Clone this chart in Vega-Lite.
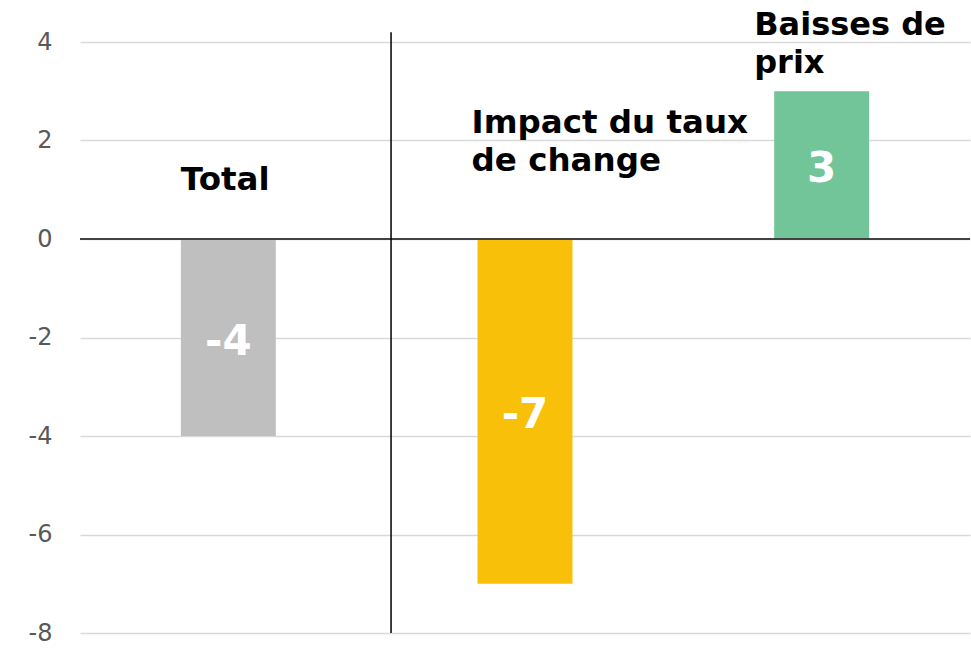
{
  "$schema": "https://vega.github.io/schema/vega-lite/v6.json",
  "width": 890,
  "height": 591,
  "autosize": "none",
  "padding": {"left": 80, "top": 42, "right": 1, "bottom": 16},
  "background": "white",
  "config": {"view": {"stroke": null}, "font": "DejaVu Sans"},
  "datasets": {
    "bars": [
      {"cat": "Total", "value": -4},
      {"cat": "Impact du taux de change", "value": -7},
      {"cat": "Baisses de prix", "value": 3}
    ],
    "labels": [
      {"cat": "Total", "label": "Total", "labelY": 1.2},
      {"cat": "Impact du taux de change", "label": "Impact du taux\nde change", "labelY": 2.36},
      {"cat": "Baisses de prix", "label": "Baisses de\nprix", "labelY": 4.34}
    ],
    "divider": [{"top": 4.2, "bottom": -8}]
  },
  "layer": [
    {
      "data": {"name": "bars"},
      "mark": {"type": "bar"},
      "encoding": {
        "x": {
          "field": "cat", "type": "nominal", "sort": null,
          "scale": {"paddingInner": 0.68, "paddingOuter": 0.34},
          "axis": null
        },
        "y": {
          "field": "value", "type": "quantitative",
          "scale": {"domain": [-8, 4], "nice": false},
          "axis": {
            "values": [-8, -6, -4, -2, 0, 2, 4],
            "labelExpr": "'' + datum.value",
            "title": null, "domain": false, "ticks": false,
            "labelFontSize": 24, "labelColor": "#595959", "labelPadding": 28,
            "labelFont": "DejaVu Sans", "labelBound": false,
            "gridColor": "#d9d9d9", "gridWidth": 1.5
          }
        },
        "color": {
          "field": "cat", "type": "nominal", "legend": null,
          "scale": {
            "domain": ["Total", "Impact du taux de change", "Baisses de prix"],
            "range": ["#bfbfbf", "#f9c00a", "#71c598"]
          }
        }
      }
    },
    {
      "data": {"name": "bars"},
      "mark": {"type": "rule", "color": "#404040", "strokeWidth": 1.5},
      "encoding": {"y": {"datum": 0, "type": "quantitative"}}
    },
    {
      "data": {"name": "divider"},
      "mark": {"type": "rule", "color": "#000000", "strokeWidth": 1.5},
      "encoding": {
        "x": {"datum": "Total", "bandPosition": 2.214},
        "y": {"field": "top", "type": "quantitative"},
        "y2": {"field": "bottom"}
      }
    },
    {
      "data": {"name": "bars"},
      "transform": [
        {"calculate": "datum.value / 2", "as": "mid"},
        {"calculate": "'' + datum.value", "as": "valueText"}
      ],
      "mark": {"type": "text", "color": "white", "fontWeight": "bold", "fontSize": 42, "baseline": "middle", "align": "center", "dy": 4},
      "encoding": {
        "x": {"field": "cat", "type": "nominal", "sort": null},
        "y": {"field": "mid", "type": "quantitative"},
        "text": {"field": "valueText", "type": "nominal"}
      }
    },
    {
      "data": {"name": "labels"},
      "transform": [{"filter": "datum.cat == 'Total'"}],
      "mark": {"type": "text", "color": "black", "fontWeight": "bold", "fontSize": 32.5, "align": "left", "baseline": "middle", "lineBreak": "\n", "lineHeight": 38},
      "encoding": {
        "x": {"field": "cat", "type": "nominal", "sort": null, "bandPosition": 0},
        "y": {"field": "labelY", "type": "quantitative"},
        "text": {"field": "label"}
      }
    },
    {
      "data": {"name": "labels"},
      "transform": [{"filter": "datum.cat == 'Impact du taux de change'"}],
      "mark": {"type": "text", "color": "black", "fontWeight": "bold", "fontSize": 32.5, "align": "left", "baseline": "middle", "lineBreak": "\n", "lineHeight": 38, "dx": -6},
      "encoding": {
        "x": {"field": "cat", "type": "nominal", "sort": null, "bandPosition": 0},
        "y": {"field": "labelY", "type": "quantitative"},
        "text": {"field": "label"}
      }
    },
    {
      "data": {"name": "labels"},
      "transform": [{"filter": "datum.cat == 'Baisses de prix'"}],
      "mark": {"type": "text", "color": "black", "fontWeight": "bold", "fontSize": 32, "align": "left", "baseline": "middle", "lineBreak": "\n", "lineHeight": 38, "dx": -20},
      "encoding": {
        "x": {"field": "cat", "type": "nominal", "sort": null, "bandPosition": 0},
        "y": {"field": "labelY", "type": "quantitative"},
        "text": {"field": "label"}
      }
    }
  ]
}
